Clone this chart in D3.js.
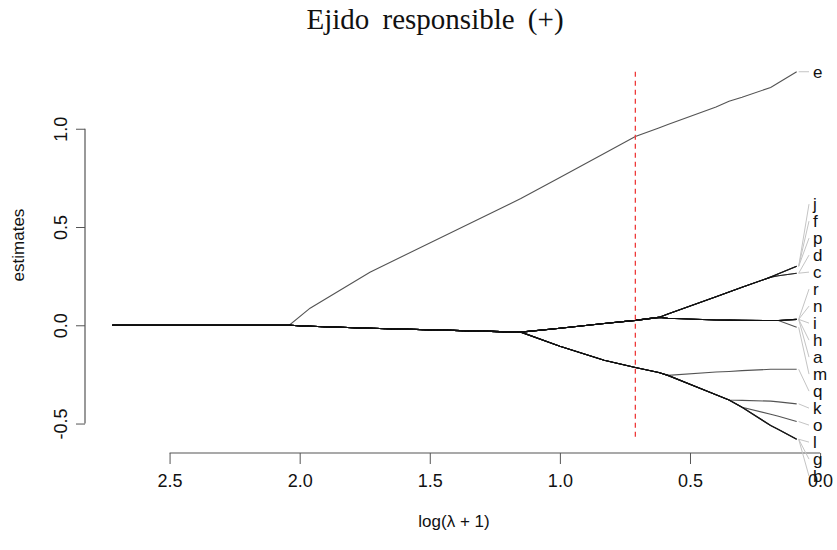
<!DOCTYPE html>
<html><head><meta charset="utf-8">
<script src="https://cdn.jsdelivr.net/npm/d3@7"></script>
<style>body{margin:0;background:#fff}</style>
</head><body>
<script>
// lambda knots, expressed as log(lambda+1)
const lambdaKnots = [2.72, 2.04, 1.96, 1.73, 1.15, 1.00, 0.83, 0.71, 0.62, 0.585, 0.40, 0.35, 0.30, 0.19, 0.16, 0.09];
const varNames = ["e","j","f","p","d","c","r","n","i","h","a","m","q","k","o","l","g","b"];
// coefficient paths per variable (values at each knot)
const coefE = [0, 0, 0.087, 0.27, 0.645, 0.752, 0.874, 0.96, 1.004, 1.021, 1.111, 1.14, 1.16, 1.21, 1.234, 1.29];
const coefJ = [0, 0, -0.005, -0.015, -0.035, -0.015, 0.009, 0.025, 0.04, 0.057, 0.145, 0.169, 0.193, 0.245, 0.262, 0.30];
const coefF = [0, 0, -0.005, -0.015, -0.035, -0.015, 0.009, 0.025, 0.04, 0.057, 0.145, 0.169, 0.193, 0.245, 0.262, 0.30];
const coefP = [0, 0, -0.005, -0.015, -0.035, -0.015, 0.009, 0.025, 0.04, 0.057, 0.145, 0.169, 0.193, 0.245, 0.262, 0.30];
const coefD = [0, 0, -0.005, -0.015, -0.035, -0.015, 0.009, 0.025, 0.04, 0.057, 0.145, 0.169, 0.193, 0.245, 0.252, 0.265];
const coefC = [0, 0, -0.005, -0.015, -0.035, -0.015, 0.009, 0.025, 0.04, 0.057, 0.145, 0.169, 0.193, 0.245, 0.252, 0.265];
const coefR = [0, 0, -0.005, -0.015, -0.035, -0.015, 0.009, 0.025, 0.04, 0.036, 0.027, 0.026, 0.025, 0.024, 0.024, 0.03];
const coefN = [0, 0, -0.005, -0.015, -0.035, -0.015, 0.009, 0.025, 0.04, 0.036, 0.027, 0.026, 0.025, 0.024, 0.024, 0.03];
const coefI = [0, 0, -0.005, -0.015, -0.035, -0.015, 0.009, 0.025, 0.04, 0.036, 0.027, 0.026, 0.025, 0.024, 0.024, 0.03];
const coefH = [0, 0, -0.005, -0.015, -0.035, -0.015, 0.009, 0.025, 0.04, 0.036, 0.027, 0.026, 0.025, 0.024, 0.024, 0.03];
const coefA = [0, 0, -0.005, -0.015, -0.035, -0.015, 0.009, 0.025, 0.04, 0.036, 0.027, 0.026, 0.025, 0.024, 0.024, 0.03];
const coefM = [0, 0, -0.005, -0.015, -0.035, -0.015, 0.009, 0.025, 0.04, 0.036, 0.027, 0.026, 0.025, 0.024, 0.024, -0.01];
const coefQ = [0, 0, -0.005, -0.015, -0.035, -0.107, -0.178, -0.215, -0.24, -0.255, -0.238, -0.235, -0.231, -0.224, -0.224, -0.224];
const coefK = [0, 0, -0.005, -0.015, -0.035, -0.107, -0.178, -0.215, -0.24, -0.255, -0.353, -0.38, -0.382, -0.386, -0.39, -0.40];
const coefO = [0, 0, -0.005, -0.015, -0.035, -0.107, -0.178, -0.215, -0.24, -0.255, -0.353, -0.38, -0.417, -0.453, -0.463, -0.49];
const coefL = [0, 0, -0.005, -0.015, -0.035, -0.107, -0.178, -0.215, -0.24, -0.255, -0.353, -0.38, -0.417, -0.51, -0.53, -0.58];
const coefG = [0, 0, -0.005, -0.015, -0.035, -0.107, -0.178, -0.215, -0.24, -0.255, -0.353, -0.38, -0.417, -0.51, -0.53, -0.58];
const coefB = [0, 0, -0.005, -0.015, -0.035, -0.107, -0.178, -0.215, -0.24, -0.255, -0.353, -0.38, -0.417, -0.51, -0.53, -0.58];
const coefSeries = [coefE, coefJ, coefF, coefP, coefD, coefC, coefR, coefN, coefI, coefH, coefA, coefM, coefQ, coefK, coefO, coefL, coefG, coefB];
const xTicks = [2.5, 2.0, 1.5, 1.0, 0.5, 0.0];
const yTicks = [-0.5, 0.0, 0.5, 1.0];
const selectedLambda = 0.71;
const titleText = "Ejido responsible (+)";
const xTitle = "log(λ + 1)";
const yTitle = "estimates";

const W = 837, H = 550;
const svg = d3.select("body").append("svg").attr("width", W).attr("height", H)
  .style("font-family", "'Liberation Sans', Arial, sans-serif");

const x = d3.scaleLinear().domain([2.825, -0.015]).range([85, 824]);
const y = d3.scaleLinear().domain([-0.655, 1.365]).range([454, 57]);
const fmt = d => d.toFixed(1);

// axes
const xAxisG = svg.append("g").attr("transform", `translate(0,${453})`)
  .call(d3.axisBottom(x).tickValues(xTicks).tickFormat(fmt).tickSize(11).tickPadding(10));
xAxisG.select(".domain").remove();
xAxisG.append("line").attr("x1", x(xTicks[0])).attr("x2", x(xTicks[xTicks.length-1]))
  .attr("stroke", "#555").attr("stroke-width", 1.2);
xAxisG.selectAll(".tick line").attr("stroke", "#555");
xAxisG.selectAll(".tick text").attr("fill", "#111").style("font-size", "18px")
  .style("font-family", "'Liberation Sans', Arial, sans-serif");

const yAxisG = svg.append("g").attr("transform", `translate(85,0)`)
  .call(d3.axisLeft(y).tickValues(yTicks).tickFormat(fmt).tickSize(9).tickPadding(6));
yAxisG.select(".domain").remove();
yAxisG.append("line").attr("y1", y(yTicks[0])).attr("y2", y(yTicks[yTicks.length-1]))
  .attr("stroke", "#555").attr("stroke-width", 1.2);
yAxisG.selectAll(".tick line").attr("stroke", "#555");
yAxisG.selectAll(".tick text")
  .attr("x", null).attr("dy", null)
  .attr("text-anchor", "middle")
  .attr("transform", "translate(-18,0) rotate(-90)")
  .attr("y", 0)
  .attr("fill", "#111").style("font-size", "18px")
  .style("font-family", "'Liberation Sans', Arial, sans-serif");

// titles
svg.append("text").attr("x", 435).attr("y", 29).attr("text-anchor", "middle")
  .style("font-family", "'Liberation Serif', 'Times New Roman', serif").style("font-size", "29px")
  .attr("word-spacing", 6).attr("fill", "#111").text(titleText);
svg.append("text").attr("x", 454).attr("y", 527).attr("text-anchor", "middle")
  .style("font-size", "17px").attr("fill", "#111").text(xTitle);
svg.append("text").attr("transform", "translate(24,245) rotate(-90)").attr("text-anchor", "middle")
  .style("font-size", "17px").attr("fill", "#111").text(yTitle);

// paths
const line = d3.line().x((d, i) => x(lambdaKnots[i])).y(d => y(d));
svg.append("g").selectAll("path").data(coefSeries).join("path")
  .attr("d", d => line(d)).attr("fill", "none")
  .attr("stroke", "#111").attr("stroke-width", 1.1).attr("stroke-opacity", 0.72);

// selected lambda
const allVals = coefSeries.flat();
svg.append("line").attr("x1", x(selectedLambda)).attr("x2", x(selectedLambda))
  .attr("y1", y(d3.max(allVals))).attr("y2", y(d3.min(allVals)))
  .attr("stroke", "#ee3b3b").attr("stroke-width", 1.3).attr("stroke-dasharray", "5,4");

// labels spread
const last = lambdaKnots.length - 1;
const ends = varNames.map((n, i) => ({ name: n, target: y(coefSeries[i][last]), idx: i }));
const sorted = ends.slice().sort((a, b) => a.target - b.target || a.idx - b.idx);
const gap = 17;
let clusters = sorted.map(d => ({ items: [d] }));
function place(c) { const m = d3.mean(c.items, d => d.target); c.top = m - (c.items.length - 1) * gap / 2; }
clusters.forEach(place);
let merged = true;
while (merged) {
  merged = false;
  for (let k = 0; k < clusters.length - 1; k++) {
    const a = clusters[k], b = clusters[k + 1];
    if (a.top + a.items.length * gap > b.top) {
      a.items = a.items.concat(b.items); place(a); clusters.splice(k + 1, 1); merged = true; break;
    }
  }
}
clusters.forEach(c => c.items.forEach((d, j) => d.ly = c.top + j * gap));

const xEnd = x(lambdaKnots[last]);
const lab = svg.append("g");
lab.selectAll("line").data(sorted).join("line")
  .attr("x1", xEnd + 2).attr("y1", d => d.target).attr("x2", 809).attr("y2", d => d.ly)
  .attr("stroke", "#c4c4c4").attr("stroke-width", 1);
lab.selectAll("text").data(sorted).join("text")
  .attr("x", 813).attr("y", d => d.ly).attr("dy", "0.35em")
  .style("font-size", "17px").attr("fill", "#111").text(d => d.name);
</script>
</body></html>
